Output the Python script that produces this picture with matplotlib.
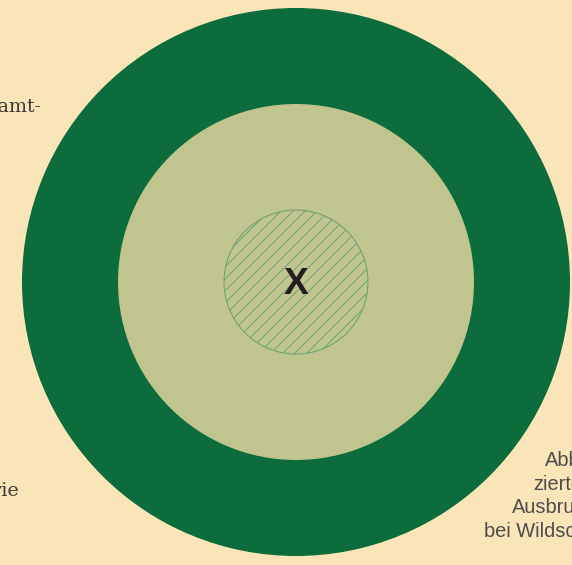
import matplotlib
matplotlib.use("Agg")
import matplotlib.pyplot as plt
from matplotlib.patches import Circle

# data
ring_names = ["outer", "middle", "core"]
ring_radii = [274, 178, 72]
ring_colors = ["#0C6C3C", "#C0C48E", "#C0C48E"]
center_label = "X"
left_lines = ["Gesamt-", "Kategorie"]
right_lines = ["Abbildung", "zierte", "Ausbruch", "bei Wildschweinen"]

W, H, DPI = 572, 565, 72
fig = plt.figure(figsize=(W / DPI, H / DPI), dpi=DPI)
bg = "#FAE5B8"
fig.patch.set_facecolor(bg)
ax = fig.add_axes([0, 0, 1, 1])
ax.set_xlim(0, W)
ax.set_ylim(H, 0)
ax.set_aspect("equal")
ax.axis("off")

cx, cy = 296, 282
plt.rcParams["hatch.linewidth"] = 0.9
for name, r, c in zip(ring_names, ring_radii, ring_colors):
    if name == "core":
        ax.add_patch(Circle((cx, cy), r, facecolor=c, edgecolor="#6A9E74",
                            hatch="//", linewidth=1.0))
    else:
        ax.add_patch(Circle((cx, cy), r, facecolor=c, edgecolor="none"))

ax.text(cx, cy + 2, center_label, ha="center", va="center", fontsize=37,
        fontweight="bold", color="#231F20", family="Liberation Sans")

ax.text(42, 112, left_lines[0], ha="right", va="baseline", fontsize=19,
        color="#3A3A3A", family="DejaVu Serif")
ax.text(19, 496, left_lines[1], ha="right", va="baseline", fontsize=19,
        color="#3A3A3A", family="DejaVu Serif")

right_x = [545, 533, 512, 484]
right_y = [466, 490, 513, 537]
for s, x, y in zip(right_lines, right_x, right_y):
    ax.text(x, y, s, ha="left", va="baseline", fontsize=20,
            color="#4D4D4D", family="Liberation Sans")

fig.savefig("out.png", dpi=DPI, facecolor=bg)
